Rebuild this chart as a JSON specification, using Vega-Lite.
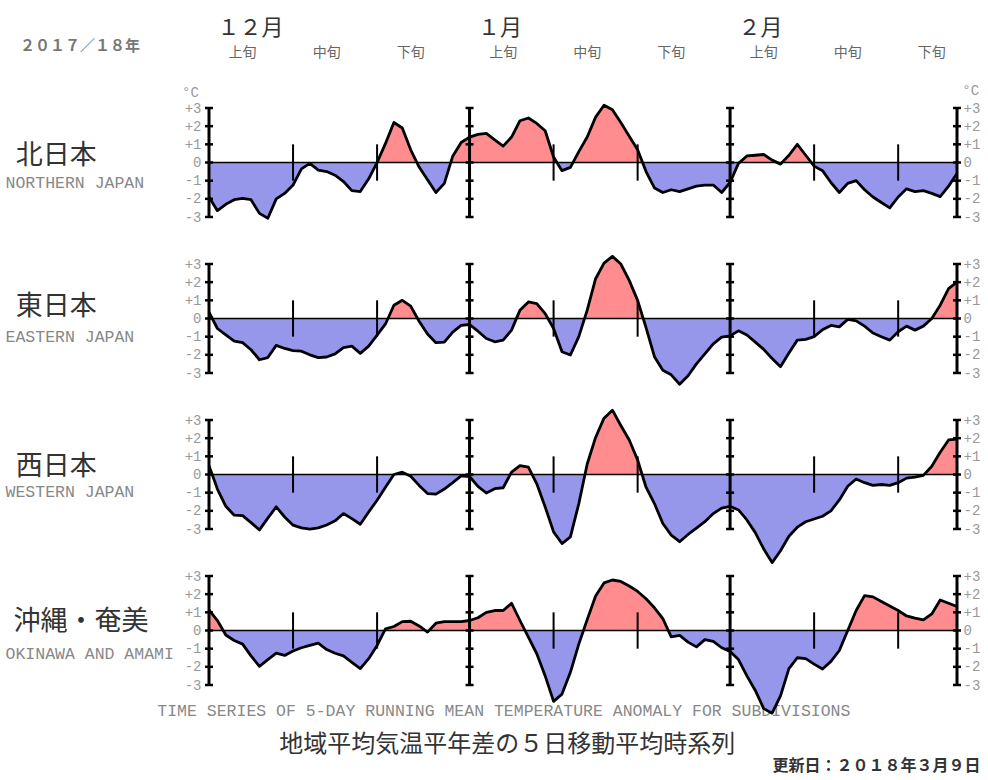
{
"$schema":"https://vega.github.io/schema/vega-lite/v6.json",
"background":"white",
"padding":{"left":5,"top":16,"right":5,"bottom":6},
"config":{"view":{"stroke":null}},
"datasets":{
"anom":[
{"date":"2017-12-01","north":-1.9,"east":0.35,"west":0.49,"okinawa":1.13},
{"date":"2017-12-02","north":-2.65,"east":-0.55,"west":-0.8,"okinawa":0.55},
{"date":"2017-12-03","north":-2.3,"east":-0.9,"west":-1.75,"okinawa":-0.25},
{"date":"2017-12-04","north":-2.05,"east":-1.25,"west":-2.24,"okinawa":-0.55},
{"date":"2017-12-05","north":-1.97,"east":-1.33,"west":-2.26,"okinawa":-0.75},
{"date":"2017-12-06","north":-2.05,"east":-1.72,"west":-2.65,"okinawa":-1.4},
{"date":"2017-12-07","north":-2.8,"east":-2.27,"west":-3.05,"okinawa":-1.97},
{"date":"2017-12-08","north":-3.07,"east":-2.15,"west":-2.4,"okinawa":-1.6},
{"date":"2017-12-09","north":-2.0,"east":-1.48,"west":-1.78,"okinawa":-1.25},
{"date":"2017-12-10","north":-1.7,"east":-1.65,"west":-2.34,"okinawa":-1.37},
{"date":"2017-12-11","north":-1.24,"east":-1.77,"west":-2.79,"okinawa":-1.13},
{"date":"2017-12-12","north":-0.35,"east":-1.8,"west":-2.94,"okinawa":-0.95},
{"date":"2017-12-13","north":-0.05,"east":-2.0,"west":-3.01,"okinawa":-0.82},
{"date":"2017-12-14","north":-0.42,"east":-2.15,"west":-2.94,"okinawa":-0.7},
{"date":"2017-12-15","north":-0.5,"east":-2.12,"west":-2.78,"okinawa":-1.05},
{"date":"2017-12-16","north":-0.7,"east":-1.95,"west":-2.55,"okinawa":-1.25},
{"date":"2017-12-17","north":-1.05,"east":-1.6,"west":-2.15,"okinawa":-1.4},
{"date":"2017-12-18","north":-1.55,"east":-1.52,"west":-2.43,"okinawa":-1.75},
{"date":"2017-12-19","north":-1.6,"east":-1.92,"west":-2.74,"okinawa":-2.1},
{"date":"2017-12-20","north":-0.9,"east":-1.52,"west":-2.06,"okinawa":-1.55},
{"date":"2017-12-21","north":0.0,"east":-0.91,"west":-1.42,"okinawa":-0.82},
{"date":"2017-12-22","north":1.05,"east":-0.3,"west":-0.7,"okinawa":0.09},
{"date":"2017-12-23","north":2.2,"east":0.73,"west":0.0,"okinawa":0.22},
{"date":"2017-12-24","north":1.9,"east":1.0,"west":0.13,"okinawa":0.49},
{"date":"2017-12-25","north":0.7,"east":0.68,"west":-0.1,"okinawa":0.51},
{"date":"2017-12-26","north":-0.25,"east":-0.15,"west":-0.6,"okinawa":0.25},
{"date":"2017-12-27","north":-0.95,"east":-0.85,"west":-1.05,"okinawa":-0.09},
{"date":"2017-12-28","north":-1.65,"east":-1.33,"west":-1.08,"okinawa":0.4},
{"date":"2017-12-29","north":-1.15,"east":-1.3,"west":-0.8,"okinawa":0.49},
{"date":"2017-12-30","north":0.35,"east":-0.75,"west":-0.45,"okinawa":0.49},
{"date":"2017-12-31","north":1.1,"east":-0.38,"west":-0.08,"okinawa":0.49},
{"date":"2018-01-01","north":1.4,"east":-0.33,"west":-0.11,"okinawa":0.55},
{"date":"2018-01-02","north":1.55,"east":-0.7,"west":-0.65,"okinawa":0.7},
{"date":"2018-01-03","north":1.6,"east":-1.1,"west":-1.02,"okinawa":1.0},
{"date":"2018-01-04","north":1.25,"east":-1.28,"west":-0.78,"okinawa":1.1},
{"date":"2018-01-05","north":0.9,"east":-1.19,"west":-0.73,"okinawa":1.1},
{"date":"2018-01-06","north":1.4,"east":-0.64,"west":0.13,"okinawa":1.5},
{"date":"2018-01-07","north":2.3,"east":0.46,"west":0.49,"okinawa":0.55},
{"date":"2018-01-08","north":2.45,"east":0.91,"west":0.4,"okinawa":-0.37},
{"date":"2018-01-09","north":2.15,"east":0.82,"west":-0.51,"okinawa":-1.28},
{"date":"2018-01-10","north":1.75,"east":0.27,"west":-1.79,"okinawa":-2.5},
{"date":"2018-01-11","north":0.3,"east":-0.55,"west":-3.16,"okinawa":-3.9},
{"date":"2018-01-12","north":-0.45,"east":-1.83,"west":-3.8,"okinawa":-3.5},
{"date":"2018-01-13","north":-0.27,"east":-2.01,"west":-3.43,"okinawa":-2.3},
{"date":"2018-01-14","north":0.6,"east":-1.0,"west":-1.61,"okinawa":-0.75},
{"date":"2018-01-15","north":1.4,"east":0.46,"west":0.58,"okinawa":0.6},
{"date":"2018-01-16","north":2.5,"east":2.19,"west":2.04,"okinawa":1.9},
{"date":"2018-01-17","north":3.15,"east":3.05,"west":3.1,"okinawa":2.62},
{"date":"2018-01-18","north":2.9,"east":3.42,"west":3.54,"okinawa":2.78},
{"date":"2018-01-19","north":2.2,"east":3.0,"west":2.7,"okinawa":2.7},
{"date":"2018-01-20","north":1.45,"east":2.1,"west":1.9,"okinawa":2.45},
{"date":"2018-01-21","north":0.7,"east":1.0,"west":0.8,"okinawa":2.15},
{"date":"2018-01-22","north":-0.5,"east":-0.5,"west":-0.7,"okinawa":1.75},
{"date":"2018-01-23","north":-1.4,"east":-2.1,"west":-1.6,"okinawa":1.25},
{"date":"2018-01-24","north":-1.65,"east":-2.85,"west":-2.7,"okinawa":0.65},
{"date":"2018-01-25","north":-1.5,"east":-3.1,"west":-3.34,"okinawa":-0.35},
{"date":"2018-01-26","north":-1.6,"east":-3.62,"west":-3.7,"okinawa":-0.27},
{"date":"2018-01-27","north":-1.45,"east":-3.15,"west":-3.3,"okinawa":-0.64},
{"date":"2018-01-28","north":-1.3,"east":-2.5,"west":-2.95,"okinawa":-0.9},
{"date":"2018-01-29","north":-1.24,"east":-1.95,"west":-2.6,"okinawa":-0.5},
{"date":"2018-01-30","north":-1.24,"east":-1.4,"west":-2.15,"okinawa":-0.6},
{"date":"2018-01-31","north":-1.65,"east":-1.03,"west":-1.85,"okinawa":-0.95},
{"date":"2018-02-01","north":-1.1,"east":-0.95,"west":-1.75,"okinawa":-1.15},
{"date":"2018-02-02","north":-0.05,"east":-0.68,"west":-1.95,"okinawa":-1.6},
{"date":"2018-02-03","north":0.36,"east":-0.91,"west":-2.5,"okinawa":-2.5},
{"date":"2018-02-04","north":0.4,"east":-1.3,"west":-3.2,"okinawa":-3.3},
{"date":"2018-02-05","north":0.44,"east":-1.7,"west":-4.1,"okinawa":-4.3},
{"date":"2018-02-06","north":0.13,"east":-2.2,"west":-4.85,"okinawa":-4.55},
{"date":"2018-02-07","north":-0.09,"east":-2.65,"west":-4.2,"okinawa":-3.6},
{"date":"2018-02-08","north":0.4,"east":-1.9,"west":-3.4,"okinawa":-2.1},
{"date":"2018-02-09","north":1.0,"east":-1.19,"west":-2.9,"okinawa":-1.5},
{"date":"2018-02-10","north":0.4,"east":-1.15,"west":-2.6,"okinawa":-1.55},
{"date":"2018-02-11","north":-0.2,"east":-1.0,"west":-2.45,"okinawa":-1.85},
{"date":"2018-02-12","north":-0.45,"east":-0.62,"west":-2.3,"okinawa":-2.12},
{"date":"2018-02-13","north":-1.1,"east":-0.38,"west":-2.0,"okinawa":-1.7},
{"date":"2018-02-14","north":-1.65,"east":-0.46,"west":-1.4,"okinawa":-1.1},
{"date":"2018-02-15","north":-1.15,"east":-0.05,"west":-0.65,"okinawa":0.0},
{"date":"2018-02-16","north":-1.0,"east":-0.13,"west":-0.25,"okinawa":1.1},
{"date":"2018-02-17","north":-1.5,"east":-0.42,"west":-0.45,"okinawa":1.92},
{"date":"2018-02-18","north":-1.9,"east":-0.8,"west":-0.6,"okinawa":1.85},
{"date":"2018-02-19","north":-2.2,"east":-1.0,"west":-0.55,"okinawa":1.6},
{"date":"2018-02-20","north":-2.5,"east":-1.19,"west":-0.6,"okinawa":1.35},
{"date":"2018-02-21","north":-1.9,"east":-0.73,"west":-0.45,"okinawa":1.1},
{"date":"2018-02-22","north":-1.45,"east":-0.42,"west":-0.2,"okinawa":0.8},
{"date":"2018-02-23","north":-1.6,"east":-0.64,"west":-0.14,"okinawa":0.68},
{"date":"2018-02-24","north":-1.55,"east":-0.42,"west":-0.05,"okinawa":0.58},
{"date":"2018-02-25","north":-1.7,"east":0.0,"west":0.45,"okinawa":0.91},
{"date":"2018-02-26","north":-1.88,"east":0.73,"west":1.22,"okinawa":1.68},
{"date":"2018-02-27","north":-1.3,"east":1.65,"west":1.9,"okinawa":1.5},
{"date":"2018-02-28","north":-0.6,"east":2.0,"west":1.95,"okinawa":1.32}
],
"rulers":[{"date":"2017-12-01"},{"date":"2018-01-01"},{"date":"2018-02-01"},{"date":"2018-02-28"}],
"crossbars":[
{"date":"2017-12-01","level":-3},{"date":"2017-12-01","level":-2},{"date":"2017-12-01","level":-1},{"date":"2017-12-01","level":0},{"date":"2017-12-01","level":1},{"date":"2017-12-01","level":2},{"date":"2017-12-01","level":3},
{"date":"2018-01-01","level":-3},{"date":"2018-01-01","level":-2},{"date":"2018-01-01","level":-1},{"date":"2018-01-01","level":0},{"date":"2018-01-01","level":1},{"date":"2018-01-01","level":2},{"date":"2018-01-01","level":3},
{"date":"2018-02-01","level":-3},{"date":"2018-02-01","level":-2},{"date":"2018-02-01","level":-1},{"date":"2018-02-01","level":0},{"date":"2018-02-01","level":1},{"date":"2018-02-01","level":2},{"date":"2018-02-01","level":3},
{"date":"2018-02-28","level":-3},{"date":"2018-02-28","level":-2},{"date":"2018-02-28","level":-1},{"date":"2018-02-28","level":0},{"date":"2018-02-28","level":1},{"date":"2018-02-28","level":2},{"date":"2018-02-28","level":3}
],
"dekads":[{"date":"2017-12-11"},{"date":"2017-12-21"},{"date":"2018-01-11"},{"date":"2018-01-21"},{"date":"2018-02-11"},{"date":"2018-02-21"}],
"months":[{"date":"2017-12-02","label":"１２月"},{"date":"2018-01-02","label":"１月"},{"date":"2018-02-02","label":"２月"}],
"jun":[
{"date":"2017-12-05","label":"上旬"},{"date":"2017-12-15","label":"中旬"},{"date":"2017-12-25","label":"下旬"},
{"date":"2018-01-05","label":"上旬"},{"date":"2018-01-15","label":"中旬"},{"date":"2018-01-25","label":"下旬"},
{"date":"2018-02-05","label":"上旬"},{"date":"2018-02-15","label":"中旬"},{"date":"2018-02-25","label":"下旬"}
]
},
"spacing":47,
"bounds":"flush",
"vconcat":[
{
"width":748,"height":109,
"resolve":{"axis":{"y":"independent"}},
"layer":[
{"data":{"name":"anom"},
 "mark":{"type":"area","opacity":1,"fill":{"gradient":"linear","x1":0,"y1":0,"x2":0,"y2":1,"stops":[{"offset":0,"color":"#ff8c8f"},{"offset":0.5064,"color":"#ff8c8f"},{"offset":0.5064,"color":"#9696eb"},{"offset":1,"color":"#9696eb"}]}},
 "encoding":{
  "x":{"field":"date","type":"temporal","scale":{"type":"utc","nice":false,"domain":[{"year":2017,"month":12,"date":1,"utc":true},{"year":2018,"month":2,"date":28,"utc":true}]},"axis":null},
  "y":{"field":"north","type":"quantitative","scale":{"domain":[-3,3],"nice":false,"zero":false},
       "axis":{"orient":"left","title":null,"values":[-3,-2,-1,0,1,2,3],"labelExpr":"datum.value > 0 ? '+' + datum.value : '' + datum.value","domain":false,"ticks":false,"grid":false,"labelFont":"Liberation Mono","labelFontSize":14,"labelColor":"#999999","labelPadding":8}},
  "y2":{"datum":0}}},
{"data":{"values":[{}]},"mark":{"type":"rule","color":"black","strokeWidth":1.5},"encoding":{"y":{"datum":0,"type":"quantitative","axis":null}}},
{"data":{"name":"anom"},"mark":{"type":"line","color":"black","strokeWidth":2.8,"strokeJoin":"round"},
 "encoding":{"x":{"field":"date","type":"temporal","axis":null},
  "y":{"field":"north","type":"quantitative",
       "axis":{"orient":"right","title":null,"values":[-3,-2,-1,0,1,2,3],"labelExpr":"datum.value > 0 ? '+' + datum.value : '' + datum.value","domain":false,"ticks":false,"grid":false,"labelFont":"Liberation Mono","labelFontSize":14,"labelColor":"#999999","labelPadding":6}}}},
{"data":{"name":"rulers"},"mark":{"type":"rule","color":"black","strokeWidth":3},"encoding":{"x":{"field":"date","type":"temporal","axis":null},"y":{"datum":-3,"type":"quantitative","axis":null},"y2":{"datum":3}}},
{"data":{"name":"crossbars"},"mark":{"type":"tick","orient":"horizontal","color":"black","size":8,"thickness":2.5,"opacity":1},"encoding":{"x":{"field":"date","type":"temporal","axis":null},"y":{"field":"level","type":"quantitative","axis":null}}},
{"data":{"name":"dekads"},"mark":{"type":"rule","color":"black","strokeWidth":2},"encoding":{"x":{"field":"date","type":"temporal","axis":null},"y":{"datum":-1,"type":"quantitative","axis":null},"y2":{"datum":1}}},
{"data":{"values":[{}]},"mark":{"type":"text","text":"北日本","font":"Noto Sans CJK JP","fontSize":27,"align":"left","baseline":"middle","color":"#333333"},
 "encoding":{"x":{"datum":{"year":2017,"month":11,"date":8,"utc":true},"type":"temporal","axis":null},"y":{"datum":0.38,"type":"quantitative","axis":null}}},
{"data":{"values":[{}]},"mark":{"type":"text","text":"NORTHERN JAPAN","font":"Liberation Mono","fontSize":16.5,"align":"left","baseline":"middle","color":"#888888"},
 "encoding":{"x":{"datum":{"year":2017,"month":11,"date":6,"hours":19,"utc":true},"type":"temporal","axis":null},"y":{"datum":-1.15,"type":"quantitative","axis":null}}},
{"data":{"values":[{}]},"mark":{"type":"text","text":"２０１７／１８年","font":"Noto Sans CJK JP","fontSize":15,"fontWeight":"bold","align":"left","baseline":"middle","color":"#777777"},
 "encoding":{"x":{"datum":{"year":2017,"month":11,"date":8,"hours":12,"utc":true},"type":"temporal","axis":null},"y":{"datum":6.4,"type":"quantitative","axis":null}}},
{"data":{"values":[{}]},"mark":{"type":"text","text":"°C","font":"Liberation Mono","fontSize":14,"align":"right","baseline":"middle","color":"#999999"},
 "encoding":{"x":{"datum":{"year":2017,"month":11,"date":29,"hours":19,"utc":true},"type":"temporal","axis":null},"y":{"datum":3.85,"type":"quantitative","axis":null}}},
{"data":{"values":[{}]},"mark":{"type":"text","text":"°C","font":"Liberation Mono","fontSize":14,"align":"left","baseline":"middle","color":"#999999"},
 "encoding":{"x":{"datum":{"year":2018,"month":2,"date":28,"hours":15,"utc":true},"type":"temporal","axis":null},"y":{"datum":3.95,"type":"quantitative","axis":null}}},
{"data":{"name":"months"},"mark":{"type":"text","font":"Noto Sans CJK JP","fontSize":22,"align":"left","baseline":"middle","color":"#333333"},
 "encoding":{"x":{"field":"date","type":"temporal","axis":null},"y":{"datum":7.42,"type":"quantitative","axis":null},"text":{"field":"label"}}},
{"data":{"name":"jun"},"mark":{"type":"text","font":"Noto Sans CJK JP","fontSize":14,"align":"center","baseline":"middle","color":"#666666"},
 "encoding":{"x":{"field":"date","type":"temporal","axis":null},"y":{"datum":6.04,"type":"quantitative","axis":null},"text":{"field":"label"}}}
]
},
{
"width":748,"height":109,
"resolve":{"axis":{"y":"independent"}},
"layer":[
{"data":{"name":"anom"},
 "mark":{"type":"area","opacity":1,"fill":{"gradient":"linear","x1":0,"y1":0,"x2":0,"y2":1,"stops":[{"offset":0,"color":"#ff8c8f"},{"offset":0.4858,"color":"#ff8c8f"},{"offset":0.4858,"color":"#9696eb"},{"offset":1,"color":"#9696eb"}]}},
 "encoding":{
  "x":{"field":"date","type":"temporal","scale":{"type":"utc","nice":false,"domain":[{"year":2017,"month":12,"date":1,"utc":true},{"year":2018,"month":2,"date":28,"utc":true}]},"axis":null},
  "y":{"field":"east","type":"quantitative","scale":{"domain":[-3,3],"nice":false,"zero":false},
       "axis":{"orient":"left","title":null,"values":[-3,-2,-1,0,1,2,3],"labelExpr":"datum.value > 0 ? '+' + datum.value : '' + datum.value","domain":false,"ticks":false,"grid":false,"labelFont":"Liberation Mono","labelFontSize":14,"labelColor":"#999999","labelPadding":8}},
  "y2":{"datum":0}}},
{"data":{"values":[{}]},"mark":{"type":"rule","color":"black","strokeWidth":1.5},"encoding":{"y":{"datum":0,"type":"quantitative","axis":null}}},
{"data":{"name":"anom"},"mark":{"type":"line","color":"black","strokeWidth":2.8,"strokeJoin":"round"},
 "encoding":{"x":{"field":"date","type":"temporal","axis":null},
  "y":{"field":"east","type":"quantitative",
       "axis":{"orient":"right","title":null,"values":[-3,-2,-1,0,1,2,3],"labelExpr":"datum.value > 0 ? '+' + datum.value : '' + datum.value","domain":false,"ticks":false,"grid":false,"labelFont":"Liberation Mono","labelFontSize":14,"labelColor":"#999999","labelPadding":6}}}},
{"data":{"name":"rulers"},"mark":{"type":"rule","color":"black","strokeWidth":3},"encoding":{"x":{"field":"date","type":"temporal","axis":null},"y":{"datum":-3,"type":"quantitative","axis":null},"y2":{"datum":3}}},
{"data":{"name":"crossbars"},"mark":{"type":"tick","orient":"horizontal","color":"black","size":8,"thickness":2.5,"opacity":1},"encoding":{"x":{"field":"date","type":"temporal","axis":null},"y":{"field":"level","type":"quantitative","axis":null}}},
{"data":{"name":"dekads"},"mark":{"type":"rule","color":"black","strokeWidth":2},"encoding":{"x":{"field":"date","type":"temporal","axis":null},"y":{"datum":-1,"type":"quantitative","axis":null},"y2":{"datum":1}}},
{"data":{"values":[{}]},"mark":{"type":"text","text":"東日本","font":"Noto Sans CJK JP","fontSize":27,"align":"left","baseline":"middle","color":"#333333"},
 "encoding":{"x":{"datum":{"year":2017,"month":11,"date":8,"utc":true},"type":"temporal","axis":null},"y":{"datum":0.62,"type":"quantitative","axis":null}}},
{"data":{"values":[{}]},"mark":{"type":"text","text":"EASTERN JAPAN","font":"Liberation Mono","fontSize":16.5,"align":"left","baseline":"middle","color":"#888888"},
 "encoding":{"x":{"datum":{"year":2017,"month":11,"date":6,"hours":19,"utc":true},"type":"temporal","axis":null},"y":{"datum":-1.03,"type":"quantitative","axis":null}}}
]
},
{
"width":748,"height":109,
"resolve":{"axis":{"y":"independent"}},
"layer":[
{"data":{"name":"anom"},
 "mark":{"type":"area","opacity":1,"fill":{"gradient":"linear","x1":0,"y1":0,"x2":0,"y2":1,"stops":[{"offset":0,"color":"#ff8c8f"},{"offset":0.4219,"color":"#ff8c8f"},{"offset":0.4219,"color":"#9696eb"},{"offset":1,"color":"#9696eb"}]}},
 "encoding":{
  "x":{"field":"date","type":"temporal","scale":{"type":"utc","nice":false,"domain":[{"year":2017,"month":12,"date":1,"utc":true},{"year":2018,"month":2,"date":28,"utc":true}]},"axis":null},
  "y":{"field":"west","type":"quantitative","scale":{"domain":[-3,3],"nice":false,"zero":false},
       "axis":{"orient":"left","title":null,"values":[-3,-2,-1,0,1,2,3],"labelExpr":"datum.value > 0 ? '+' + datum.value : '' + datum.value","domain":false,"ticks":false,"grid":false,"labelFont":"Liberation Mono","labelFontSize":14,"labelColor":"#999999","labelPadding":8}},
  "y2":{"datum":0}}},
{"data":{"values":[{}]},"mark":{"type":"rule","color":"black","strokeWidth":1.5},"encoding":{"y":{"datum":0,"type":"quantitative","axis":null}}},
{"data":{"name":"anom"},"mark":{"type":"line","color":"black","strokeWidth":2.8,"strokeJoin":"round"},
 "encoding":{"x":{"field":"date","type":"temporal","axis":null},
  "y":{"field":"west","type":"quantitative",
       "axis":{"orient":"right","title":null,"values":[-3,-2,-1,0,1,2,3],"labelExpr":"datum.value > 0 ? '+' + datum.value : '' + datum.value","domain":false,"ticks":false,"grid":false,"labelFont":"Liberation Mono","labelFontSize":14,"labelColor":"#999999","labelPadding":6}}}},
{"data":{"name":"rulers"},"mark":{"type":"rule","color":"black","strokeWidth":3},"encoding":{"x":{"field":"date","type":"temporal","axis":null},"y":{"datum":-3,"type":"quantitative","axis":null},"y2":{"datum":3}}},
{"data":{"name":"crossbars"},"mark":{"type":"tick","orient":"horizontal","color":"black","size":8,"thickness":2.5,"opacity":1},"encoding":{"x":{"field":"date","type":"temporal","axis":null},"y":{"field":"level","type":"quantitative","axis":null}}},
{"data":{"name":"dekads"},"mark":{"type":"rule","color":"black","strokeWidth":2},"encoding":{"x":{"field":"date","type":"temporal","axis":null},"y":{"datum":-1,"type":"quantitative","axis":null},"y2":{"datum":1}}},
{"data":{"values":[{}]},"mark":{"type":"text","text":"西日本","font":"Noto Sans CJK JP","fontSize":27,"align":"left","baseline":"middle","color":"#333333"},
 "encoding":{"x":{"datum":{"year":2017,"month":11,"date":8,"utc":true},"type":"temporal","axis":null},"y":{"datum":0.44,"type":"quantitative","axis":null}}},
{"data":{"values":[{}]},"mark":{"type":"text","text":"WESTERN JAPAN","font":"Liberation Mono","fontSize":16.5,"align":"left","baseline":"middle","color":"#888888"},
 "encoding":{"x":{"datum":{"year":2017,"month":11,"date":6,"hours":19,"utc":true},"type":"temporal","axis":null},"y":{"datum":-0.99,"type":"quantitative","axis":null}}}
]
},
{
"width":748,"height":109,
"resolve":{"axis":{"y":"independent"}},
"layer":[
{"data":{"values":[{}]},"mark":{"type":"text","text":"TIME SERIES OF 5-DAY RUNNING MEAN TEMPERATURE ANOMALY FOR SUBDIVISIONS","font":"Liberation Mono","fontSize":16.5,"align":"center","baseline":"middle","color":"#888888"},
 "encoding":{"x":{"datum":{"year":2018,"month":1,"date":5,"hours":2,"utc":true},"type":"temporal","scale":{"type":"utc","nice":false,"domain":[{"year":2017,"month":12,"date":1,"utc":true},{"year":2018,"month":2,"date":28,"utc":true}]},"axis":null},"y":{"datum":-4.45,"type":"quantitative","scale":{"domain":[-3,3],"nice":false,"zero":false},"axis":null}}},
{"data":{"name":"anom"},
 "mark":{"type":"area","opacity":1,"fill":{"gradient":"linear","x1":0,"y1":0,"x2":0,"y2":1,"stops":[{"offset":0,"color":"#ff8c8f"},{"offset":0.3793,"color":"#ff8c8f"},{"offset":0.3793,"color":"#9696eb"},{"offset":1,"color":"#9696eb"}]}},
 "encoding":{
  "x":{"field":"date","type":"temporal","axis":null},
  "y":{"field":"okinawa","type":"quantitative",
       "axis":{"orient":"left","title":null,"values":[-3,-2,-1,0,1,2,3],"labelExpr":"datum.value > 0 ? '+' + datum.value : '' + datum.value","domain":false,"ticks":false,"grid":false,"labelFont":"Liberation Mono","labelFontSize":14,"labelColor":"#999999","labelPadding":8}},
  "y2":{"datum":0}}},
{"data":{"values":[{}]},"mark":{"type":"rule","color":"black","strokeWidth":1.5},"encoding":{"y":{"datum":0,"type":"quantitative","axis":null}}},
{"data":{"name":"anom"},"mark":{"type":"line","color":"black","strokeWidth":2.8,"strokeJoin":"round"},
 "encoding":{"x":{"field":"date","type":"temporal","axis":null},
  "y":{"field":"okinawa","type":"quantitative",
       "axis":{"orient":"right","title":null,"values":[-3,-2,-1,0,1,2,3],"labelExpr":"datum.value > 0 ? '+' + datum.value : '' + datum.value","domain":false,"ticks":false,"grid":false,"labelFont":"Liberation Mono","labelFontSize":14,"labelColor":"#999999","labelPadding":6}}}},
{"data":{"name":"rulers"},"mark":{"type":"rule","color":"black","strokeWidth":3},"encoding":{"x":{"field":"date","type":"temporal","axis":null},"y":{"datum":-3,"type":"quantitative","axis":null},"y2":{"datum":3}}},
{"data":{"name":"crossbars"},"mark":{"type":"tick","orient":"horizontal","color":"black","size":8,"thickness":2.5,"opacity":1},"encoding":{"x":{"field":"date","type":"temporal","axis":null},"y":{"field":"level","type":"quantitative","axis":null}}},
{"data":{"name":"dekads"},"mark":{"type":"rule","color":"black","strokeWidth":2},"encoding":{"x":{"field":"date","type":"temporal","axis":null},"y":{"datum":-1,"type":"quantitative","axis":null},"y2":{"datum":1}}},
{"data":{"values":[{}]},"mark":{"type":"text","text":"沖縄・奄美","font":"Noto Sans CJK JP","fontSize":27,"align":"left","baseline":"middle","color":"#333333"},
 "encoding":{"x":{"datum":{"year":2017,"month":11,"date":7,"hours":18,"utc":true},"type":"temporal","axis":null},"y":{"datum":0.49,"type":"quantitative","axis":null}}},
{"data":{"values":[{}]},"mark":{"type":"text","text":"OKINAWA AND AMAMI","font":"Liberation Mono","fontSize":16.5,"align":"left","baseline":"middle","color":"#888888"},
 "encoding":{"x":{"datum":{"year":2017,"month":11,"date":6,"hours":19,"utc":true},"type":"temporal","axis":null},"y":{"datum":-1.27,"type":"quantitative","axis":null}}},
{"data":{"values":[{}]},"mark":{"type":"text","text":"地域平均気温平年差の５日移動平均時系列","font":"Noto Sans CJK JP","fontSize":24,"align":"center","baseline":"middle","color":"#333333"},
 "encoding":{"x":{"datum":{"year":2018,"month":1,"date":5,"hours":12,"utc":true},"type":"temporal","axis":null},"y":{"datum":-6.3,"type":"quantitative","axis":null}}},
{"data":{"values":[{}]},"mark":{"type":"text","text":"更新日：２０１８年３月９日","font":"Noto Sans CJK JP","fontSize":16,"fontWeight":"bold","align":"right","baseline":"middle","color":"#333333"},
 "encoding":{"x":{"datum":{"year":2018,"month":3,"date":2,"hours":19,"utc":true},"type":"temporal","axis":null},"y":{"datum":-7.45,"type":"quantitative","axis":null}}}
]
}
]
}
